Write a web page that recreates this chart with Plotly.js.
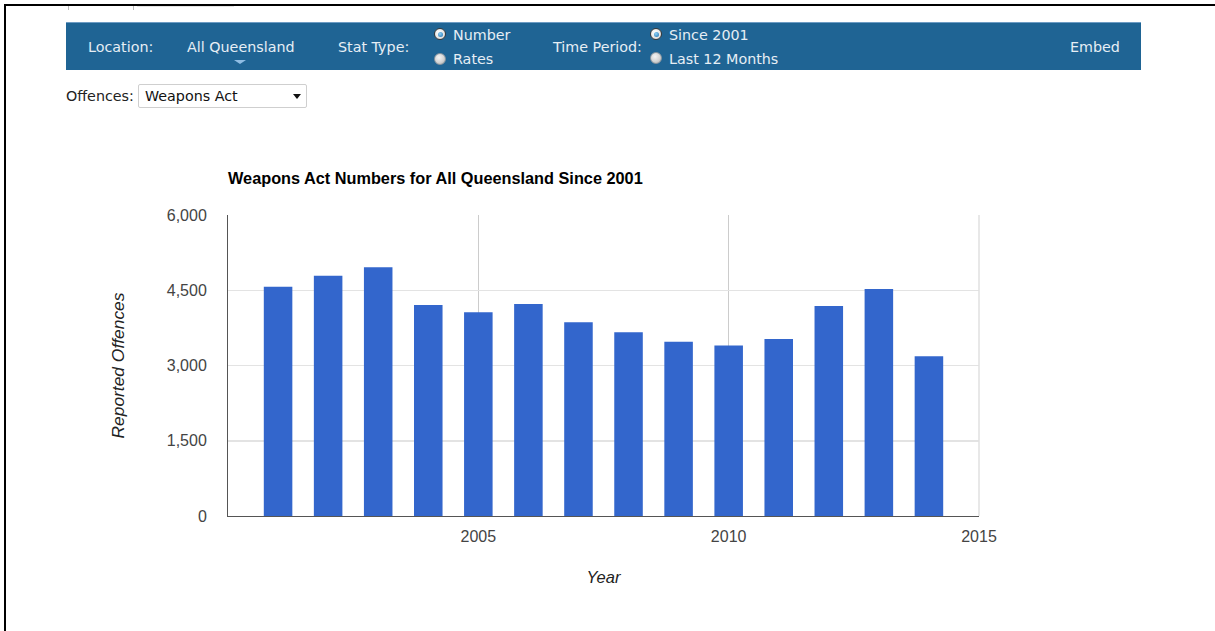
<!DOCTYPE html>
<html>
<head>
<meta charset="utf-8">
<script src="https://cdn.plot.ly/plotly-3.0.1.min.js"></script>
<style>
  html, body { margin:0; padding:0; background:#fff; width:1215px; height:631px; overflow:hidden; }
  #frameTop { position:absolute; left:4px; top:4px; width:1211px; height:2px; background:#000; z-index:3; }
  #frameLeft { position:absolute; left:4px; top:4px; width:2px; height:627px; background:#000; z-index:3; }
  .tabmark { position:absolute; top:6px; width:1px; height:4px; background:#bbb; z-index:3; }
  #tabline { position:absolute; left:137px; top:6px; width:97px; height:1px; background:#e4e4e4; z-index:3; }
  #bar { position:absolute; left:66px; top:22px; width:1075px; height:48px; background:#1f6494;
         border-top:1px solid #6d9cc4; box-sizing:border-box; z-index:2; }
  .t { position:absolute; font-family:"DejaVu Sans", Verdana, sans-serif; font-size:14.3px; color:#e6eef5; white-space:nowrap; line-height:16px; z-index:4; }
  .radio { position:absolute; width:12px; height:12px; border-radius:50%; box-sizing:border-box;
           border:1px solid #8a96a0; background:radial-gradient(circle at 40% 35%, #f4f4f4 0%, #d4d4d4 55%, #a8a8a8 100%); z-index:4; }
  .radio.on::after { content:""; position:absolute; left:2.5px; top:2.5px; width:5px; height:5px; border-radius:50%;
           background:radial-gradient(circle at 40% 35%, #8fd0f5, #1a6fb0); }
  .radio.on { border:1.5px solid #3a3a3a; background:radial-gradient(circle at 40% 35%, #ffffff 0%, #e0e0e0 70%, #c4c4c4 100%); }
  #tri { position:absolute; left:234px; top:60px; width:0; height:0; border-left:6px solid transparent; border-right:6px solid transparent; border-top:4px solid #8fbde4; z-index:4; }
  #offLabel { position:absolute; left:66px; top:88px; font-family:"DejaVu Sans", Verdana, sans-serif; font-size:14.3px; color:#222; line-height:16px; z-index:4; }
  #select { position:absolute; left:138px; top:84px; width:169px; height:24px; border:1px solid #cfcfcf; border-radius:2px; box-sizing:border-box; background:#fff; z-index:4; }
  #selText { position:absolute; left:6px; top:3px; font-family:"DejaVu Sans", Verdana, sans-serif; font-size:14.3px; color:#111; line-height:16px; }
  #selArrow { position:absolute; left:154px; top:9px; width:0; height:0; border-left:4px solid transparent; border-right:4px solid transparent; border-top:5px solid #111; }
  #chart { position:absolute; left:0; top:0; width:1215px; height:631px; z-index:1; }
</style>
</head>
<body>
<div id="frameTop"></div>
<div id="frameLeft"></div>
<div class="tabmark" style="left:68px"></div>
<div class="tabmark" style="left:133px"></div>
<div id="tabline"></div>

<div id="bar"></div>
<div class="t" style="left:88px; top:39px;">Location:</div>
<div class="t" style="left:187px; top:39px;">All Queensland</div>
<div id="tri"></div>
<div class="t" style="left:338px; top:39px;">Stat Type:</div>
<div class="radio on" style="left:434px; top:28px;"></div>
<div class="t" style="left:453px; top:27px;">Number</div>
<div class="radio" style="left:434px; top:53px;"></div>
<div class="t" style="left:453px; top:51px;">Rates</div>
<div class="t" style="left:553px; top:39px;">Time Period:</div>
<div class="radio on" style="left:650px; top:28px;"></div>
<div class="t" style="left:669px; top:27px;">Since 2001</div>
<div class="radio" style="left:650px; top:52px;"></div>
<div class="t" style="left:669px; top:51px;">Last 12 Months</div>
<div class="t" style="left:1070px; top:39px;">Embed</div>

<div id="offLabel">Offences:</div>
<div id="select"><div id="selText">Weapons Act</div><div id="selArrow"></div></div>

<div id="chart"></div>

<script>
// ---- data ----
const years = [2001, 2002, 2003, 2004, 2005, 2006, 2007, 2008, 2009, 2010, 2011, 2012, 2013, 2014];
const offences = [4570, 4790, 4960, 4205, 4060, 4225, 3860, 3665, 3475, 3400, 3530, 4185, 4525, 3185];
const xTickVals = [2005, 2010, 2015];
const xTickText = ['2005', '2010', '2015'];
const yTickVals = [0, 1500, 3000, 4500, 6000];
const chartTitle = 'Weapons Act Numbers for All Queensland Since 2001';
const xTitle = 'Year';
const yTitle = 'Reported Offences';

const trace = {
  type: 'bar',
  x: years,
  y: offences,
  width: 0.57,
  marker: { color: '#3366cc', line: { width: 0 } },
  hoverinfo: 'none'
};

const layout = {
  width: 1215, height: 631, autosize: false,
  margin: { l: 228, r: 236, t: 215, b: 115, pad: 0 },
  paper_bgcolor: 'rgba(0,0,0,0)',
  plot_bgcolor: '#ffffff',
  showlegend: false,
  title: {
    text: '<b>' + chartTitle + '</b>',
    font: { family: 'Arial, "Liberation Sans", sans-serif', size: 16.3, color: '#000' },
    xref: 'paper', x: 0, xanchor: 'left',
    yref: 'container', y: 1 - 178 / 631, yanchor: 'middle'
  },
  xaxis: {
    range: [2000, 2015],
    tickmode: 'array', tickvals: xTickVals, ticktext: xTickText,
    showgrid: true, gridcolor: '#cccccc', gridwidth: 1,
    zeroline: false,
    showline: true, linecolor: '#555555', linewidth: 1,
    ticks: '', ticklabelstandoff: 6,
    tickfont: { family: 'Arial, "Liberation Sans", sans-serif', size: 16, color: '#444' },
    title: { text: xTitle, standoff: 27,
             font: { family: 'Arial, "Liberation Sans", sans-serif', size: 16.5, color: '#222', style: 'italic' } },
    fixedrange: true
  },
  yaxis: {
    range: [0, 6000],
    tickmode: 'array', tickvals: yTickVals, tickformat: ',d',
    showgrid: true, gridcolor: '#e3e3e3', gridwidth: 1.5,
    zeroline: false,
    showline: true, linecolor: '#555555', linewidth: 1,
    ticks: '', ticklabelstandoff: 17,
    tickfont: { family: 'Arial, "Liberation Sans", sans-serif', size: 16, color: '#444' },
    title: { text: yTitle, standoff: 37,
             font: { family: 'Arial, "Liberation Sans", sans-serif', size: 17.4, color: '#222', style: 'italic' } },
    fixedrange: true
  },
  shapes: [
    { type: 'line', xref: 'paper', yref: 'paper', x0: 1, x1: 1, y0: 0, y1: 1,
      line: { color: '#e0e0e0', width: 1.5 }, layer: 'above' }
  ],
  hovermode: false
};

Plotly.newPlot('chart', [trace], layout, { displayModeBar: false, staticPlot: true });
</script>
</body>
</html>
